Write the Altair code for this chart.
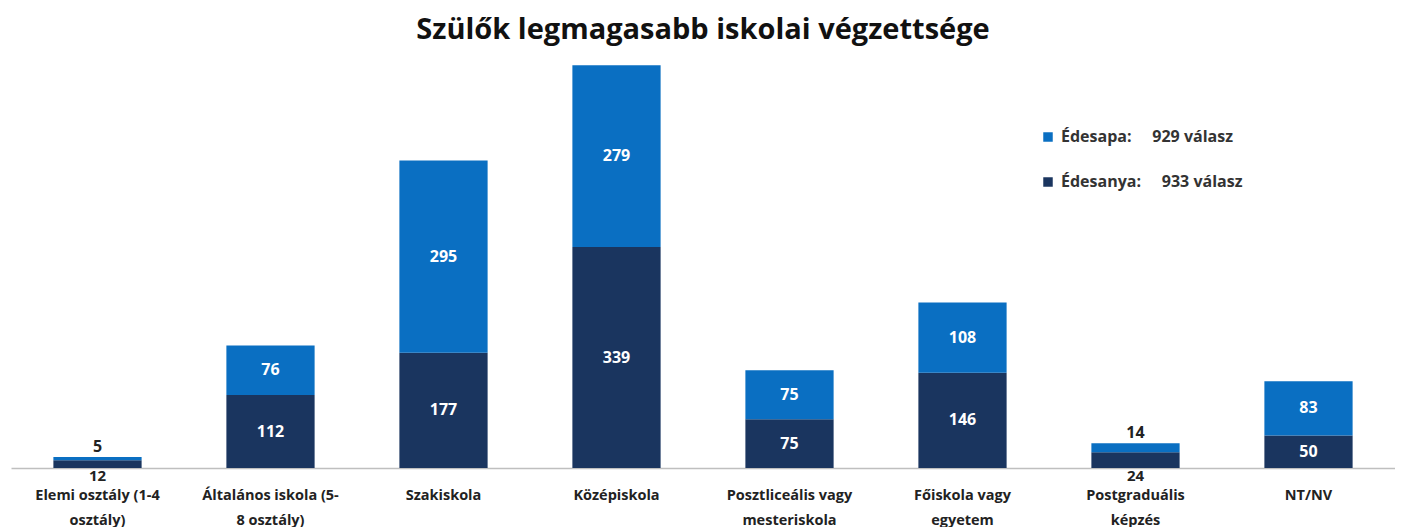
import altair as alt
import pandas as pd

categories = [
    "Elemi osztály (1-4|osztály)",
    "Általános iskola (5-|8 osztály)",
    "Szakiskola",
    "Középiskola",
    "Posztliceális vagy|mesteriskola",
    "Főiskola vagy|egyetem",
    "Postgraduális|képzés",
    "NT/NV",
]
anya_values = [12, 112, 177, 339, 75, 146, 24, 50]
apa_values = [5, 76, 295, 279, 75, 108, 14, 83]
series_names = ["Édesapa", "Édesanya"]
series_counts = [929, 933]
colors = ["#0A6FC2", "#1A355F"]

SP = "\u00a0" * 5
legend_labels = [f"{n}:{SP}{c} válasz" for n, c in zip(series_names, series_counts)]

rows = []
for i, cat in enumerate(categories):
    total = anya_values[i] + apa_values[i]
    rows.append({"cat": cat, "series": legend_labels[1], "value": anya_values[i], "ord": 0, "total": total})
    rows.append({"cat": cat, "series": legend_labels[0], "value": apa_values[i], "ord": 1, "total": total})
df = pd.DataFrame(rows)

FONT = "Open Sans"
xenc = alt.X("cat:N", sort=categories, title=None,
             scale=alt.Scale(paddingInner=0.49, paddingOuter=0.245),
             axis=alt.Axis(labelExpr="split(datum.value, '|')", labelAngle=0,
                           labelFontSize=14.5, labelFontWeight="bold", labelColor="#222222",
                           labelFont=FONT, labelLineHeight=25, labelPadding=20,
                           ticks=False, domainColor="#bfbfbf", domainWidth=1.3))
yscale = alt.Scale(domain=[0, 640], nice=False)

base = alt.Chart(df).transform_stack(
    stack="value", groupby=["cat"], as_=["y0", "y1"], sort=[alt.SortField("ord", order="ascending")]
).transform_calculate(mid="(datum.y0 + datum.y1) / 2")

bars = base.mark_bar().encode(
    x=xenc,
    y=alt.Y("y0:Q", scale=yscale, axis=None),
    y2="y1:Q",
    color=alt.Color("series:N", scale=alt.Scale(domain=legend_labels, range=colors),
                    legend=alt.Legend(title=None, orient="none", legendX=1029, legendY=78,
                                      symbolType="square", symbolSize=90, symbolStrokeWidth=0,
                                      labelFontSize=16, labelFont=FONT, labelFontWeight="bold",
                                      labelColor="#333333", rowPadding=29, labelOffset=5,
                                      labelLimit=400)),
)

inside = base.transform_filter("datum.total >= 50").mark_text(
    color="white", fontSize=16, fontWeight="bold", font=FONT, baseline="middle"
).encode(x=alt.X("cat:N", sort=categories), y=alt.Y("mid:Q", scale=yscale), text="value:Q")

top_out = base.transform_filter("datum.total < 50 && datum.ord == 1").mark_text(
    color="#222222", fontSize=16, fontWeight="bold", font=FONT, baseline="bottom", dy=-2
).encode(x=alt.X("cat:N", sort=categories), y=alt.Y("y1:Q", scale=yscale), text="value:Q")

bot_out = base.transform_filter("datum.total < 50 && datum.ord == 0").mark_text(
    color="#222222", fontSize=15, fontWeight="bold", font=FONT, baseline="top", dy=1
).encode(x=alt.X("cat:N", sort=categories), y=alt.Y("y0:Q", scale=yscale), text="value:Q")

chart = alt.layer(bars, inside, top_out, bot_out).properties(
    width=1384, height=417,
    title=alt.TitleParams("Szülők legmagasabb iskolai végzettsége", fontSize=29, font=FONT,
                          fontWeight="bold", color="#111111", anchor="middle", offset=6),
    padding={"left": 3, "top": 8, "right": 0, "bottom": 0},
).configure_view(stroke=None)

chart.save("out.html", embed_options={"renderer": "svg", "actions": False})
